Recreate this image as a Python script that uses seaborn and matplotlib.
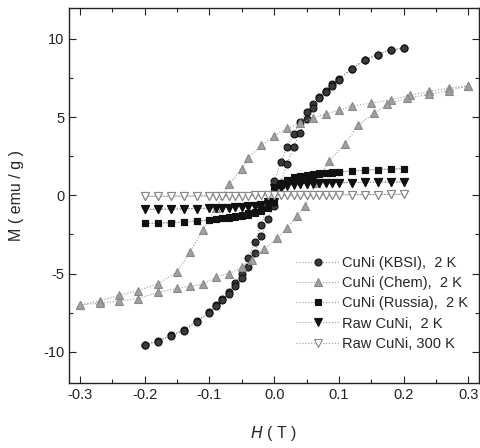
import numpy as np
import pandas as pd
import matplotlib
matplotlib.use("Agg")
import matplotlib.pyplot as plt
import seaborn as sns

# field grid (T) used by the 2 K loops measured to +-0.2 T
h_02 = [0.2, 0.18, 0.16, 0.14, 0.12, 0.1, 0.09, 0.08, 0.07, 0.06, 0.05, 0.04, 0.03, 0.02, 0.01, 0.0,
        -0.01, -0.02, -0.03, -0.04, -0.05, -0.06, -0.07, -0.08, -0.09, -0.1, -0.12, -0.14, -0.16, -0.18, -0.2]

# CuNi (KBSI), 2 K
kbsi_down = [9.4, 9.3, 9.0, 8.65, 8.1, 7.45, 7.1, 6.7, 6.3, 5.85, 5.35, 4.7, 3.9, 3.1, 2.1, 0.9,
             -0.6, -1.9, -3.0, -4.0, -5.0, -5.6, -6.2, -6.65, -7.0, -7.45, -8.05, -8.6, -8.95, -9.3, -9.55]
kbsi_up = [-9.55, -9.35, -9.0, -8.65, -8.1, -7.5, -7.1, -6.7, -6.3, -5.8, -5.3, -4.6, -3.7, -2.6, -1.5, -0.7,
           0.8, 2.0, 3.1, 4.0, 4.9, 5.6, 6.2, 6.6, 7.0, 7.4, 8.1, 8.65, 9.0, 9.3, 9.4]

# CuNi (Russia), 2 K
russia_down = [1.7, 1.68, 1.65, 1.6, 1.55, 1.5, 1.47, 1.43, 1.4, 1.35, 1.3, 1.25, 1.15, 1.0, 0.8, 0.35,
               -0.6, -0.9, -1.05, -1.15, -1.25, -1.3, -1.38, -1.45, -1.5, -1.55, -1.65, -1.7, -1.75, -1.78, -1.8]
russia_up = [-1.8, -1.78, -1.75, -1.7, -1.65, -1.58, -1.52, -1.47, -1.42, -1.37, -1.32, -1.25, -1.15, -1.0, -0.8, -0.4,
             0.65, 0.95, 1.05, 1.15, 1.22, 1.3, 1.35, 1.4, 1.45, 1.5, 1.55, 1.6, 1.65, 1.68, 1.7]

# Raw CuNi, 2 K
raw2_down = [0.85, 0.85, 0.84, 0.83, 0.82, 0.8, 0.79, 0.78, 0.77, 0.76, 0.75, 0.73, 0.7, 0.66, 0.6, 0.45,
             -0.45, -0.6, -0.66, -0.7, -0.73, -0.76, -0.78, -0.8, -0.81, -0.83, -0.85, -0.87, -0.88, -0.89, -0.9]
raw2_up = [-0.9, -0.89, -0.88, -0.87, -0.85, -0.83, -0.81, -0.8, -0.78, -0.76, -0.74, -0.72, -0.69, -0.65, -0.58, -0.4,
           0.45, 0.6, 0.66, 0.7, 0.73, 0.75, 0.77, 0.78, 0.79, 0.8, 0.82, 0.83, 0.84, 0.85, 0.85]

# Raw CuNi, 300 K
raw300_down = [0.06, 0.06, 0.05, 0.05, 0.04, 0.04, 0.03, 0.03, 0.03, 0.02, 0.02, 0.02, 0.01, 0.01, 0.0, 0.0,
               0.0, -0.01, -0.01, -0.02, -0.02, -0.02, -0.03, -0.03, -0.03, -0.04, -0.04, -0.05, -0.05, -0.06, -0.06]
raw300_up = [-0.06, -0.06, -0.05, -0.05, -0.04, -0.04, -0.03, -0.03, -0.03, -0.02, -0.02, -0.02, -0.01, -0.01, 0.0, 0.0,
             0.0, 0.01, 0.01, 0.02, 0.02, 0.02, 0.03, 0.03, 0.03, 0.04, 0.04, 0.05, 0.05, 0.06, 0.06]

# CuNi (Chem), 2 K, measured to +-0.3 T
h_chem_down = [0.3, 0.27, 0.24, 0.21, 0.18, 0.15, 0.12, 0.1, 0.08, 0.06, 0.04, 0.02, 0.0, -0.02, -0.04, -0.05,
               -0.07, -0.09, -0.11, -0.13, -0.15, -0.18, -0.21, -0.24, -0.27, -0.3]
chem_down = [7.0, 6.85, 6.65, 6.4, 6.1, 5.9, 5.7, 5.45, 5.2, 4.95, 4.6, 4.3, 3.8, 3.2, 2.4, 1.7,
             0.7, -0.8, -2.2, -3.6, -4.9, -5.65, -6.1, -6.4, -6.75, -7.0]
h_chem_up = [-0.3, -0.27, -0.24, -0.21, -0.18, -0.15, -0.13, -0.11, -0.09, -0.07, -0.05, -0.035, -0.015, 0.005,
             0.02, 0.035, 0.047, 0.065, 0.085, 0.11, 0.13, 0.155, 0.175, 0.205, 0.24, 0.27, 0.3]
chem_up = [-7.0, -6.9, -6.75, -6.6, -6.2, -5.95, -5.8, -5.7, -5.2, -5.0, -4.6, -4.15, -3.4, -2.75,
           -2.1, -1.35, -0.7, 0.8, 2.2, 3.3, 4.5, 5.25, 5.85, 6.2, 6.45, 6.7, 7.0]

labels = ["CuNi (KBSI),  2 K", "CuNi (Chem),  2 K", "CuNi (Russia),  2 K", "Raw CuNi,  2 K", "Raw CuNi, 300 K"]


def loop(h_down, m_down, h_up, m_up):
    return pd.DataFrame({"H": list(h_down) + list(h_up), "M": list(m_down) + list(m_up)})


series = [
    (loop(h_02, kbsi_down, h_02[::-1], kbsi_up), dict(marker="o", ms=5, mfc="#3a3a3a", mec="#111111")),
    (loop(h_chem_down, chem_down, h_chem_up, chem_up), dict(marker="^", ms=5.5, mfc="#a0a0a0", mec="#8a8a8a")),
    (loop(h_02, russia_down, h_02[::-1], russia_up), dict(marker="s", ms=4, mfc="#111111", mec="#111111")),
    (loop(h_02, raw2_down, h_02[::-1], raw2_up), dict(marker="v", ms=5.5, mfc="#111111", mec="#111111")),
    (loop(h_02, raw300_down, h_02[::-1], raw300_up), dict(marker="v", ms=5.5, mfc="white", mec="#888888")),
]

sns.set_theme(style="ticks")
plt.rcParams["font.family"] = ["Liberation Sans", "DejaVu Sans"]
plt.rcParams["xtick.direction"] = "in"
plt.rcParams["ytick.direction"] = "in"

fig = plt.figure(figsize=(4.8, 4.48), dpi=100)
ax = fig.add_axes([0.144, 0.145, 0.853, 0.838])

for (df, style), lab in zip(series, labels):
    sns.lineplot(data=df, x="H", y="M", sort=False, estimator=None, ax=ax,
                 color="#9a9a9a", lw=0.8, ls=":", mew=0.8, label=lab, **style)

ax.set_xlim(-0.317, 0.316)
ax.set_ylim(-12, 12)
ax.set_xticks([-0.3, -0.2, -0.1, 0.0, 0.1, 0.2, 0.3])
ax.set_xticklabels(["-0.3", "-0.2", "-0.1", "0.0", "0.1", "0.2", "0.3"])
ax.set_yticks([-10, -5, 0, 5, 10])
ax.set_yticklabels(["-10", "-5", "0", "5", "10"])
ax.set_xticks(np.arange(-0.25, 0.3, 0.1), minor=True)
ax.set_yticks([-7.5, -2.5, 2.5, 7.5], minor=True)
ax.tick_params(which="both", top=True, right=True, direction="in", labelsize=10.5, colors="#222222")
ax.tick_params(which="major", length=5, width=0.8)
ax.tick_params(which="minor", length=3, width=0.8)
for s in ax.spines.values():
    s.set_color("#222222")
    s.set_linewidth(1.0)

ax.set_xlabel("$\\mathit{H}$ ( T )", fontsize=11.5, labelpad=16)
ax.set_ylabel("M ( emu / g )", fontsize=11.5, labelpad=14)

ax.legend(loc="lower right", bbox_to_anchor=(0.995, 0.063), frameon=False, fontsize=10.5,
          handlelength=3.0, handletextpad=0.15, labelspacing=0.42, borderaxespad=0.2)

fig.savefig("out.png", dpi=100)
